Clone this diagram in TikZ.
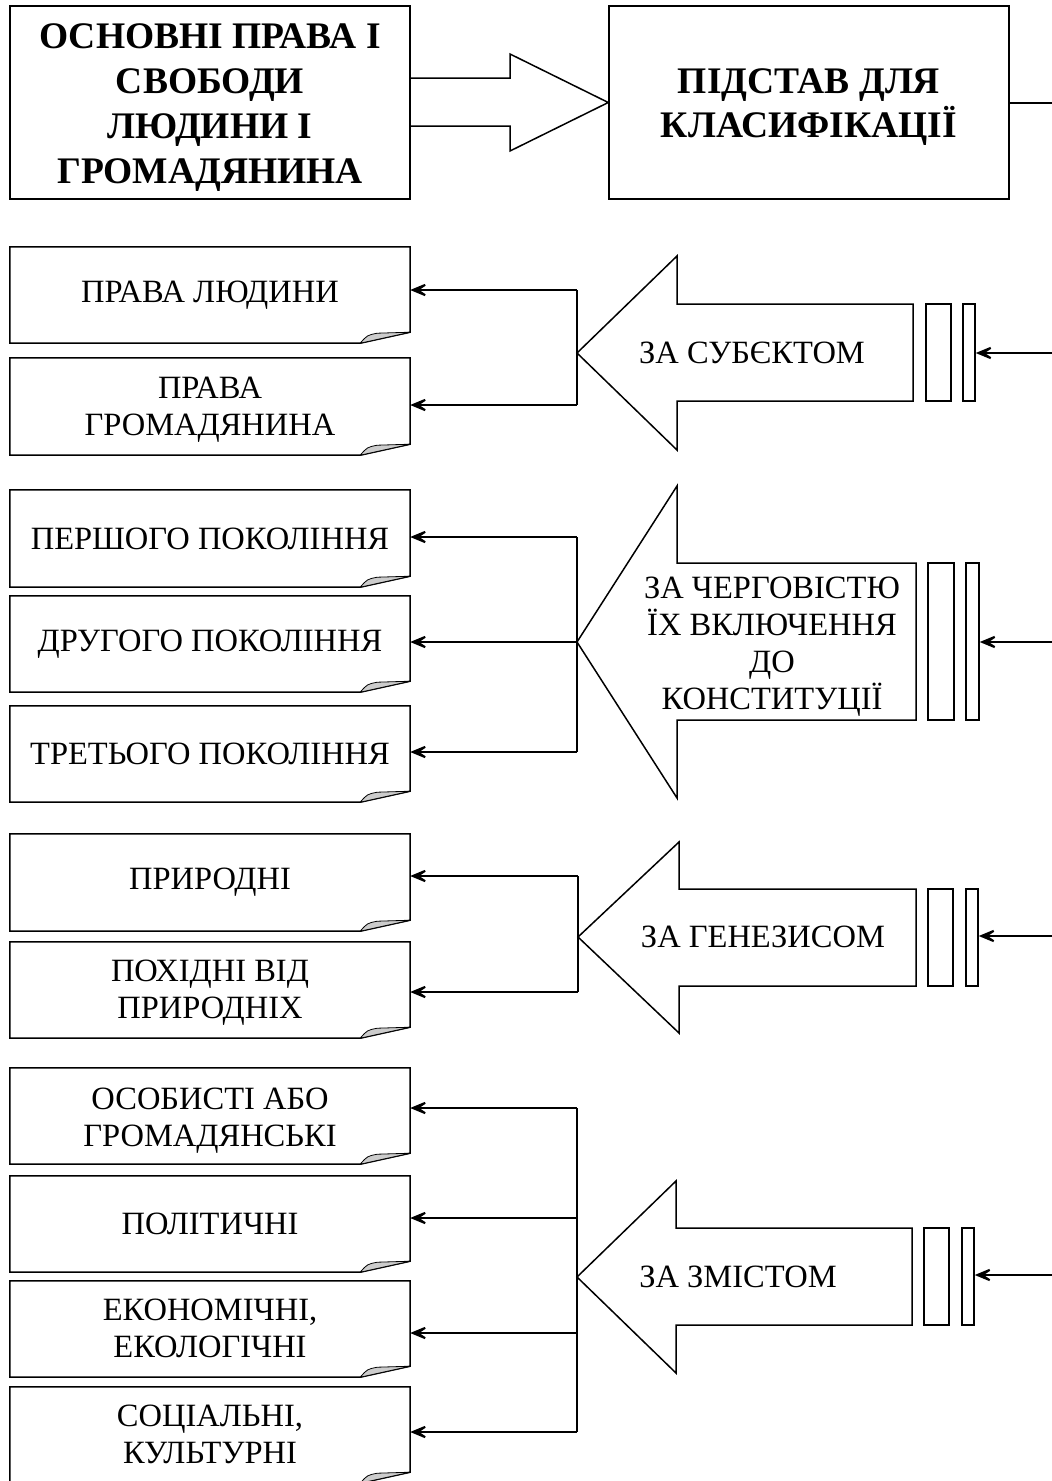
\documentclass[tikz,border=0pt]{standalone}
\usepackage{fontspec}
\setmainfont{Liberation Serif}
\usetikzlibrary{arrows.meta}
\newcommand\foldframe[1]{%
  \draw[boxline] (#1.north west) -- (#1.north east) -- ([yshift=11pt]#1.south east)
     -- ([xshift=-50pt]#1.south east) -- (#1.south west) -- cycle;
  \draw[line width=0.8pt, fill=gray!40] ([xshift=-50pt]#1.south east)
     .. controls ([xshift=-43pt,yshift=8pt]#1.south east) .. ([xshift=-33pt,yshift=10pt]#1.south east)
     -- ([yshift=11pt]#1.south east) -- cycle;}
\newcommand\blockarrow[8]{%
  \draw[boxline] (#1,#2) -- (#3,#4) -- (#3,#6) -- (#8,#6) -- (#8,#7) -- (#3,#7) -- (#3,#5) -- cycle;}
\newcommand\lowered[2]{\raisebox{-#1}[\height][\depth]{\begin{tabular}{@{}c@{}}#2\end{tabular}}}
\begin{document}
\begin{tikzpicture}[x=1pt,y=-1pt,
  boxline/.style={line width=1.5pt, line join=miter},
  conn/.style={line width=2pt},
  arr/.style={line width=2pt, -{Stealth[length=24pt, width=20pt, inset=15pt]}},
  fbox/.style={inner sep=0pt, minimum width=400pt, align=center,
     font=\fontsize{32.5}{37}\selectfont},
  tbox/.style={draw, line width=1.5pt, inner sep=0pt, minimum width=400pt, align=center,
     font=\fontsize{37.5}{44}\selectfont\bfseries},
  atext/.style={inner sep=0pt, align=center, font=\fontsize{32.5}{37}\selectfont},
  bar/.style={draw, line width=1.5pt, inner sep=0pt}]
\useasboundingbox (0,0) rectangle (1052,1481);
\fill[white] (0,0) rectangle (1052,1481);

% ---------- top ----------
\node[tbox, minimum height=193pt] (t1) at (210,102.5)
  {\lowered{5pt}{ОСНОВНІ ПРАВА І\\[1pt]СВОБОДИ\\[1pt]ЛЮДИНИ І\\[1pt]ГРОМАДЯНИНА}};
\node[tbox, minimum height=193pt] (t2) at (809,102.5)
  {\lowered{4pt}{ПІДСТАВ ДЛЯ\\КЛАСИФІКАЦІЇ}};
\draw[boxline] (t1.east |- 0,78) -- (510,78) -- (510,54) -- (t2.west) -- (510,151) -- (510,126) -- (t1.east |- 0,126);
\coordinate (topend) at (1053,102.5);
\draw[conn] (t2.east) -- (topend);

% ---------- section 1 ----------
\node[fbox, minimum height=96pt] (b11) at (210,295) {ПРАВА ЛЮДИНИ};
\node[fbox, minimum height=97pt] (b12) at (210,406.5) {\lowered{3pt}{ПРАВА\\ГРОМАДЯНИНА}};
\foldframe{b11}\foldframe{b12}
\blockarrow{577}{353}{677}{256}{450}{304}{401}{913}
\node[atext] (a1) at (752,353) {ЗА СУБЄКТОМ};
\node[bar, minimum width=25pt, minimum height=97pt] (r11) at (938.5,352.5) {};
\node[bar, minimum width=12pt, minimum height=97pt] (r12) at (969,352.5) {};
\coordinate (e1) at (1053,353);
\draw[arr] (e1) -- (r12.east |- e1);
\coordinate (j11) at (577,290);
\coordinate (j12) at (577,405);
\draw[conn] (j11) -- (j12);
\draw[arr] (j11) -- (j11 -| b11.east);
\draw[arr] (j12) -- (j12 -| b12.east);

% ---------- section 2 ----------
\node[fbox, minimum height=97pt] (b21) at (210,538.5) {ПЕРШОГО ПОКОЛІННЯ};
\node[fbox, minimum height=96pt] (b22) at (210,644) {ДРУГОГО ПОКОЛІННЯ};
\node[fbox, minimum height=96pt] (b23) at (210,754) {ТРЕТЬОГО ПОКОЛІННЯ};
\foldframe{b21}\foldframe{b22}\foldframe{b23}
\blockarrow{577}{642}{677}{486}{798}{563}{720}{916}
\node[atext] (a2) at (772,647) {ЗА ЧЕРГОВІСТЮ\\ЇХ ВКЛЮЧЕННЯ\\ДО\\КОНСТИТУЦІЇ};
\node[bar, minimum width=26pt, minimum height=157pt] (r21) at (941,641.5) {};
\node[bar, minimum width=13pt, minimum height=157pt] (r22) at (972.5,641.5) {};
\coordinate (e2) at (1053,642);
\draw[arr] (e2) -- (r22.east |- e2);
\coordinate (j21) at (577,537);
\coordinate (j22) at (577,642);
\coordinate (j23) at (577,752);
\draw[conn] (j21) -- (j23);
\draw[arr] (j21) -- (j21 -| b21.east);
\draw[arr] (j22) -- (j22 -| b22.east);
\draw[arr] (j23) -- (j23 -| b23.east);

% ---------- section 3 ----------
\node[fbox, minimum height=97pt] (b31) at (210,882.5) {ПРИРОДНІ};
\node[fbox, minimum height=96pt] (b32) at (210,990) {\lowered{3pt}{ПОХІДНІ ВІД\\ПРИРОДНІХ}};
\foldframe{b31}\foldframe{b32}
\blockarrow{578}{937}{679}{842}{1033}{889}{986}{916}
\node[atext] (a3) at (763,937) {ЗА ГЕНЕЗИСОМ};
\node[bar, minimum width=25pt, minimum height=97pt] (r31) at (940.5,937.5) {};
\node[bar, minimum width=12pt, minimum height=97pt] (r32) at (972,937.5) {};
\coordinate (e3) at (1053,936);
\draw[arr] (e3) -- (r32.east |- e3);
\coordinate (j31) at (578,876);
\coordinate (j32) at (578,992);
\draw[conn] (j31) -- (j32);
\draw[arr] (j31) -- (j31 -| b31.east);
\draw[arr] (j32) -- (j32 -| b32.east);

% ---------- section 4 ----------
\node[fbox, minimum height=96pt] (b41) at (210,1116) {\lowered{5pt}{ОСОБИСТІ АБО\\ГРОМАДЯНСЬКІ}};
\node[fbox, minimum height=96pt] (b42) at (210,1224) {ПОЛІТИЧНІ};
\node[fbox, minimum height=96pt] (b43) at (210,1329) {\lowered{3pt}{ЕКОНОМІЧНІ,\\ЕКОЛОГІЧНІ}};
\node[fbox, minimum height=96pt] (b44) at (210,1435) {\lowered{3pt}{СОЦІАЛЬНІ,\\КУЛЬТУРНІ}};
\foldframe{b41}\foldframe{b42}\foldframe{b43}\foldframe{b44}
\blockarrow{577}{1277}{676}{1181}{1373}{1228}{1325}{912}
\node[atext] (a4) at (738,1277) {ЗА ЗМІСТОМ};
\node[bar, minimum width=25pt, minimum height=97pt] (r41) at (936.5,1276.5) {};
\node[bar, minimum width=12pt, minimum height=97pt] (r42) at (968,1276.5) {};
\coordinate (e4) at (1053,1275);
\draw[arr] (e4) -- (r42.east |- e4);
\coordinate (j41) at (577,1108);
\coordinate (j42) at (577,1218);
\coordinate (j43) at (577,1333);
\coordinate (j44) at (577,1432);
\draw[conn] (j41) -- (j44);
\draw[arr] (j41) -- (j41 -| b41.east);
\draw[arr] (j42) -- (j42 -| b42.east);
\draw[arr] (j43) -- (j43 -| b43.east);
\draw[arr] (j44) -- (j44 -| b44.east);
\end{tikzpicture}
\end{document}
